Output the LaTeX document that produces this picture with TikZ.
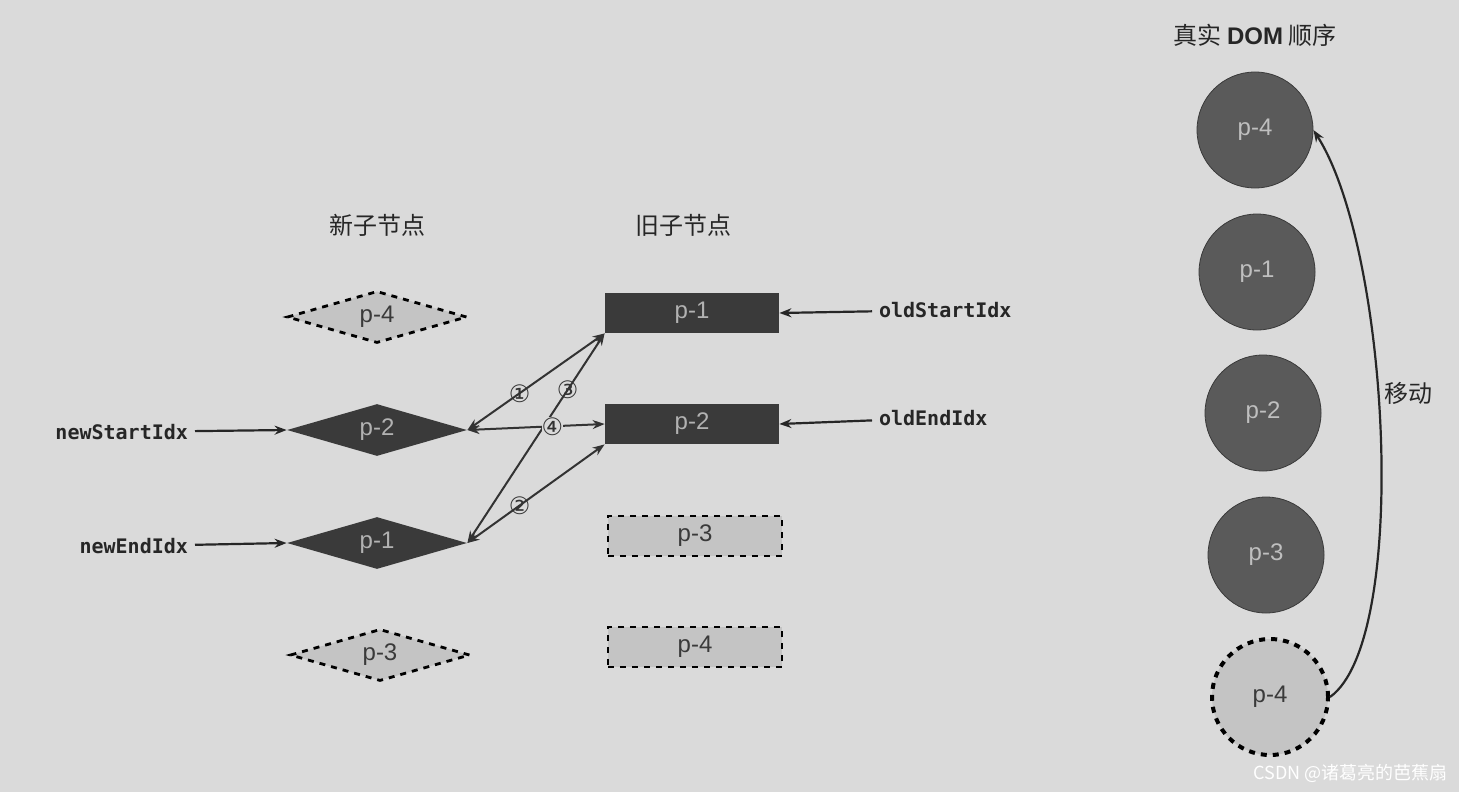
\documentclass[tikz,border=0pt]{standalone}
\usepackage{fontspec}
\setmainfont{Liberation Sans}
\setmonofont{DejaVu Sans Mono}
\newfontfamily\cjk{Noto Sans CJK SC}
\newfontfamily\symfont{DejaVu Sans}
\usetikzlibrary{shapes.geometric, arrows.meta}

\definecolor{bg}{HTML}{DADADA}
\definecolor{darkbox}{HTML}{3A3A3A}
\definecolor{lightbox}{HTML}{C4C4C4}
\definecolor{ballgray}{HTML}{5A5A5A}

\tikzset{
  newnode/.style={diamond, aspect=3.6, minimum width=90pt, minimum height=26pt, inner sep=0pt, fill=darkbox, text=gray!60, font=\large},
  newghost/.style={newnode, fill=lightbox, text=darkbox, draw=black, dashed, line width=1.4pt},
  oldnode/.style={rectangle, minimum width=87pt, minimum height=20pt, inner sep=0pt, fill=darkbox, text=gray!60, font=\large},
  oldghost/.style={oldnode, fill=lightbox, text=darkbox, draw=black, dashed, line width=1.4pt},
  ball/.style={circle, minimum size=58pt, inner sep=0pt, fill=ballgray, draw=darkbox, text=gray!50, font=\large},
  ballghost/.style={ball, fill=lightbox, text=darkbox, draw=black, dashed, line width=2pt},
  idx/.style={font=\ttfamily\bfseries, text=black!85},
  title/.style={font=\cjk\large, text=black!85},
  ptr/.style={-{Stealth[length=6pt]}, line width=1.1pt, black!85},
  cmp/.style={{Stealth[length=6pt]}-{Stealth[length=6pt]}, line width=1pt, gray!40!black},
  num/.style={font=\symfont\large, inner sep=0pt}
}

\begin{document}
\begin{tikzpicture}[x=0.5pt, y=-0.5pt]
    % background
    \fill[bg] (0, 0) rectangle (1459, 792);
    \useasboundingbox (0, 0) rectangle (1459, 792);

    % titles
    \node[title] (tnew) at (377, 225) {新子节点};
    \node[title] (told) at (683, 225) {旧子节点};
    \node[title] (tdom) at (1255, 35) {真实 \textbf{\rmfamily DOM} 顺序};

    % new children
    \node[newghost] (n4) at (377, 317) {p-4};
    \node[newnode] (n2) at (377, 430) {p-2};
    \node[newnode] (n1) at (377, 543) {p-1};
    \node[newghost] (n3) at (380, 655) {p-3};

    % old children
    \node[oldnode] (o1) at (692, 313) {p-1};
    \node[oldnode] (o2) at (692, 424) {p-2};
    \node[oldghost] (o3) at (695, 536) {p-3};
    \node[oldghost] (o4) at (695, 647) {p-4};

    % index pointers
    \node[idx, anchor=east] (nsi) at (195, 432) {newStartIdx};
    \node[idx, anchor=east] (nei) at (195, 546) {newEndIdx};
    \node[idx, anchor=west] (osi) at (872, 310) {oldStartIdx};
    \node[idx, anchor=west] (oei) at (872, 418) {oldEndIdx};
    \draw[ptr] (nsi) -- (n2.west);
    \draw[ptr] (nei) -- (n1.west);
    \draw[ptr] (osi) -- (o1.east);
    \draw[ptr] (oei) -- (o2.east);

    % comparisons
    \draw[cmp] (n2.east) -- node[num, pos=0.38] (c1) {①} (o1.south west);
    \draw[cmp] (n1.east) -- node[num, pos=0.38] (c2) {②} (o2.south west);
    \draw[cmp] (n1.east) -- node[num, pos=0.73] (c3) {③} (o1.south west);
    \draw[cmp] (n2.east) -- node[num, pos=0.62, fill=bg] (c4) {④} (o2.west);

    % real DOM
    \node[ball] (d1) at (1255, 130) {p-4};
    \node[ball] (d2) at (1257, 272) {p-1};
    \node[ball] (d3) at (1263, 413) {p-2};
    \node[ball] (d4) at (1266, 555) {p-3};
    \node[ballghost] (d5) at (1270, 697) {p-4};

    % move
    \draw[ptr] (d5.east) .. controls (1410, 640) and (1390, 250) .. (d1.east);
    \node[title] (mv) at (1408, 393) {移动};

    % watermark
    \node[font=\cjk\small, text=white, anchor=east] (wm) at (1455, 773) {CSDN @诸葛亮的芭蕉扇};
\end{tikzpicture}
\end{document}
